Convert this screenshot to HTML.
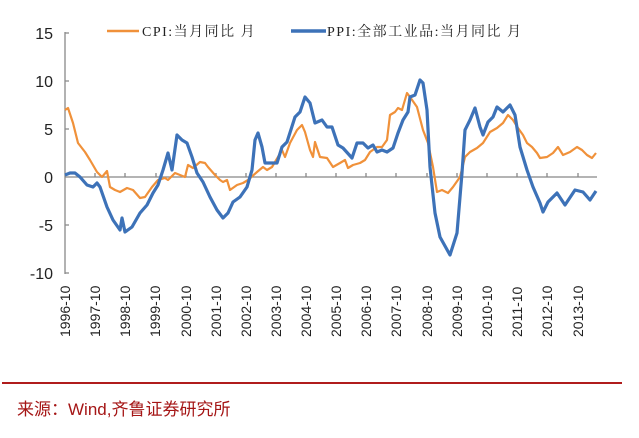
<!DOCTYPE html>
<html><head><meta charset="utf-8"><style>body{margin:0;background:#fff}</style></head><body>
<svg width="639" height="438" xmlns="http://www.w3.org/2000/svg" style="display:block">
<rect width="639" height="438" fill="#fff"/>
<g font-family="Liberation Sans, sans-serif" font-size="16" fill="#222" text-anchor="end">
<text x="53" y="39">15</text><text x="53" y="87">10</text><text x="53" y="135">5</text><text x="53" y="183">0</text><text x="53" y="231">-5</text><text x="53" y="279">-10</text>
</g>
<g stroke="#888" stroke-width="1.3" fill="none">
<line x1="65" y1="32" x2="65" y2="274"/>
<line x1="65" y1="177" x2="597" y2="177"/>
<path d="M65 33h4M65 81h4M65 129h4M65 225h4M65 273h4"/>
<path d="M95 177v-4M125 177v-4M156 177v-4M186 177v-4M216 177v-4M246 177v-4M276 177v-4M306 177v-4M336 177v-4M366 177v-4M396 177v-4M427 177v-4M457 177v-4M487 177v-4M517 177v-4M547 177v-4M578 177v-4"/>
</g>
<g font-family="Liberation Sans, sans-serif" font-size="14" fill="#222">
<text transform="translate(70,337) rotate(-90)">1996-10</text>
<text transform="translate(100,337) rotate(-90)">1997-10</text>
<text transform="translate(130,337) rotate(-90)">1998-10</text>
<text transform="translate(160,337) rotate(-90)">1999-10</text>
<text transform="translate(191,337) rotate(-90)">2000-10</text>
<text transform="translate(221,337) rotate(-90)">2001-10</text>
<text transform="translate(251,337) rotate(-90)">2002-10</text>
<text transform="translate(281,337) rotate(-90)">2003-10</text>
<text transform="translate(311,337) rotate(-90)">2004-10</text>
<text transform="translate(341,337) rotate(-90)">2005-10</text>
<text transform="translate(371,337) rotate(-90)">2006-10</text>
<text transform="translate(401,337) rotate(-90)">2007-10</text>
<text transform="translate(432,337) rotate(-90)">2008-10</text>
<text transform="translate(462,337) rotate(-90)">2009-10</text>
<text transform="translate(492,337) rotate(-90)">2010-10</text>
<text transform="translate(522,337) rotate(-90)">2011-10</text>
<text transform="translate(552,337) rotate(-90)">2012-10</text>
<text transform="translate(583,337) rotate(-90)">2013-10</text>
</g>
<polyline fill="none" stroke="#f0913a" stroke-width="2.2" stroke-linejoin="round" points="65,110 68,108 73,123 78,143 85,152 90,160 97,172 102,177 107,171 110,187 115,190 120,192 127,188 133,190 140,198 145,197 152,187 158,180 165,178 168,180 175,173 180,175 185,177 188,165 193,168 200,162 205,163 208,167 215,175 220,180 223,182 227,180 230,190 237,185 243,183 248,180 257,172 263,167 267,170 272,167 278,157 282,150 285,157 290,143 297,130 302,125 305,132 310,150 313,157 315,142 320,157 327,158 333,167 340,163 345,160 348,168 353,165 360,163 365,160 370,152 377,147 382,147 387,140 390,115 395,112 398,108 402,110 407,93 410,97 417,107 423,130 428,143 433,167 437,192 442,190 448,193 453,187 460,177 465,157 470,152 477,148 483,143 490,132 497,128 503,123 508,115 513,120 518,128 523,135 527,143 532,147 537,153 540,158 547,157 553,153 558,147 563,155 570,152 577,147 582,150 587,155 592,158 596,153"/>
<polyline fill="none" stroke="#3d72b8" stroke-width="3.2" stroke-linejoin="round" points="65,175 70,173 75,173 80,177 87,185 93,187 97,183 100,187 107,207 113,220 120,230 122,218 125,232 132,227 140,213 147,205 153,193 158,185 163,170 168,153 172,170 177,135 182,140 187,143 192,157 197,173 203,182 210,197 217,210 223,218 228,213 233,202 240,197 247,187 252,170 255,140 258,133 262,147 265,163 270,163 277,163 282,147 287,142 295,117 300,112 305,97 310,103 315,123 322,120 327,127 332,127 338,145 343,148 352,158 357,143 363,143 368,148 373,145 377,152 382,150 387,152 393,148 398,133 403,120 408,112 410,97 415,95 420,80 423,83 427,110 430,167 435,213 440,237 450,255 457,233 462,173 465,130 470,120 475,108 480,127 483,135 488,122 493,117 497,107 503,112 510,105 515,115 520,147 527,170 533,187 540,203 543,212 548,202 557,193 565,205 575,190 583,192 590,200 596,191"/>
<line x1="107" y1="31" x2="139" y2="31" stroke="#f0913a" stroke-width="2.5"/>
<line x1="291" y1="31" x2="326" y2="31" stroke="#3d72b8" stroke-width="3.5"/>
<g font-family="Liberation Serif, Noto Serif CJK SC, serif" font-size="14" fill="#222" letter-spacing="1.5">
<text x="142" y="36">CPI:当月同比 月</text>
<text x="327" y="36">PPI:全部工业品:当月同比 月</text>
</g>
<line x1="2" y1="383" x2="622" y2="383" stroke="#b01c1c" stroke-width="2"/>
<text x="17" y="415" font-family="Liberation Sans, Noto Sans CJK SC, sans-serif" font-size="17" fill="#a51616">来源：Wind,齐鲁证券研究所</text>
</svg>
</body></html>
